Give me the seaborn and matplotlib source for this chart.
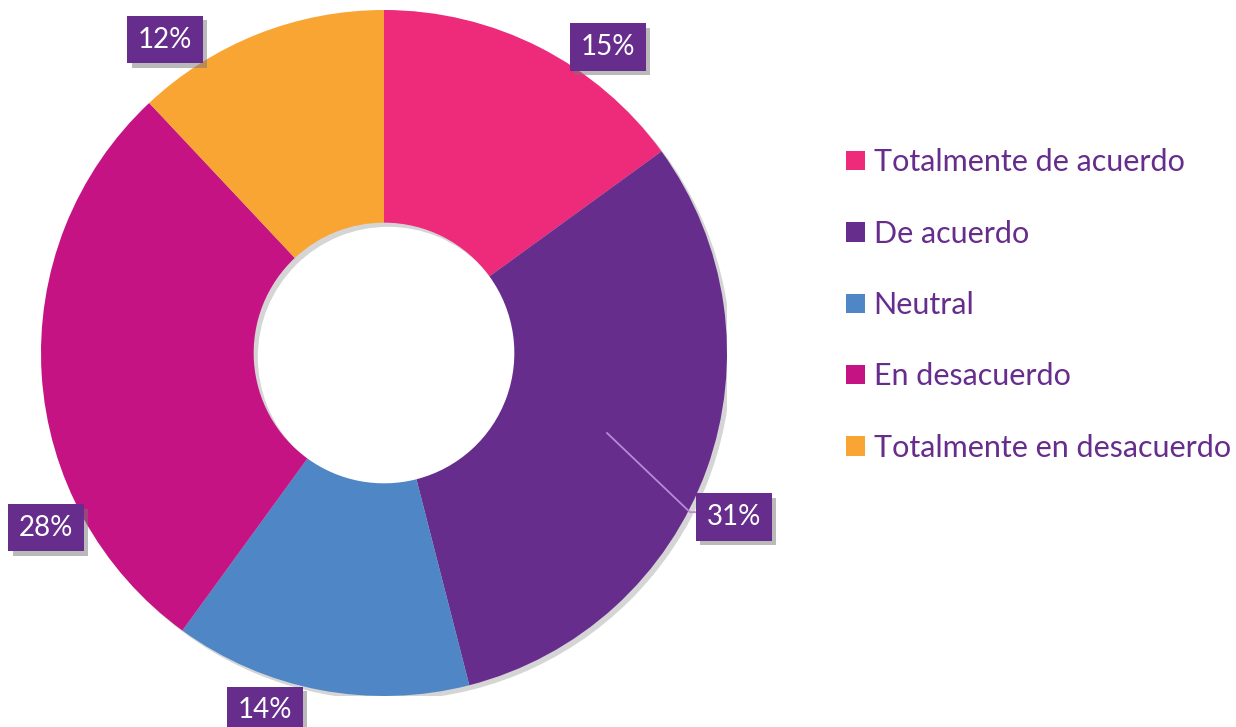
import matplotlib
matplotlib.use("Agg")
import matplotlib.pyplot as plt
import matplotlib.patheffects as pe
from matplotlib.patches import Patch, Wedge
import seaborn as sns

# categories and values
categories = ["Totalmente de acuerdo", "De acuerdo", "Neutral", "En desacuerdo", "Totalmente en desacuerdo"]
values = [15, 31, 14, 28, 12]
colors = ["#EE2A7B", "#662D8C", "#4F86C6", "#C51384", "#F9A533"]

# label box positions in pie units (centre 0,0, radius 1)
label_pos = [(0.653, 0.892), (1.02, -0.478), (-0.347, -1.041), (-0.985, -0.51), (-0.638, 0.913)]

sns.set_style("white")
plt.rcParams["font.family"] = ["Lato", "DejaVu Sans"]

W, H = 1236, 727
fig = plt.figure(figsize=(W / 100, H / 100), dpi=100)
cx, cy, r = 384, 353, 343
ax = fig.add_axes([(cx - r) / W, (H - cy - r) / H, 2 * r / W, 2 * r / H])

# one shadow for the whole ring, so slices don't shade each other
ring = Wedge((0, 0), 1, 0, 360, width=0.62, facecolor="white", edgecolor="none", zorder=0)
ring.set_path_effects([pe.SimplePatchShadow(offset=(3, -3), shadow_rgbFace="#888888", alpha=0.35)])
ax.add_patch(ring)

wedges, _ = ax.pie(values, colors=colors, startangle=90, counterclock=False,
                   radius=1, wedgeprops=dict(width=0.62, linewidth=0))
ax.set_xlim(-1, 1)
ax.set_ylim(-1, 1)
ax.set_aspect("equal")
ax.axis("off")

# leader line for the 31% label
ax.plot([0.65, 0.892, 0.93], [-0.233, -0.464, -0.464], color="#B98AD8", lw=1.3, zorder=3, clip_on=False)

for v, (x, y) in zip(values, label_pos):
    t = ax.text(x, y, f"{v}%", ha="center", va="center", color="white", fontsize=20,
                zorder=5, clip_on=False,
                bbox=dict(boxstyle="square,pad=0.38", facecolor="#662D8C", edgecolor="none"))
    t.get_bbox_patch().set_path_effects([pe.SimplePatchShadow(offset=(3, -3), shadow_rgbFace="#777777", alpha=0.5),
                                         pe.Normal()])

handles = [Patch(facecolor=c, edgecolor="none") for c in colors]
leg = fig.legend(handles, categories, loc="upper left", bbox_to_anchor=(834 / W, 1 - 136 / H),
                 frameon=False, fontsize=22, labelspacing=1.42, handlelength=0.6,
                 handleheight=0.6, handletextpad=0.3, borderaxespad=0)
for txt in leg.get_texts():
    txt.set_color("#662D8C")

fig.savefig("out.png", dpi=100, facecolor="white")
